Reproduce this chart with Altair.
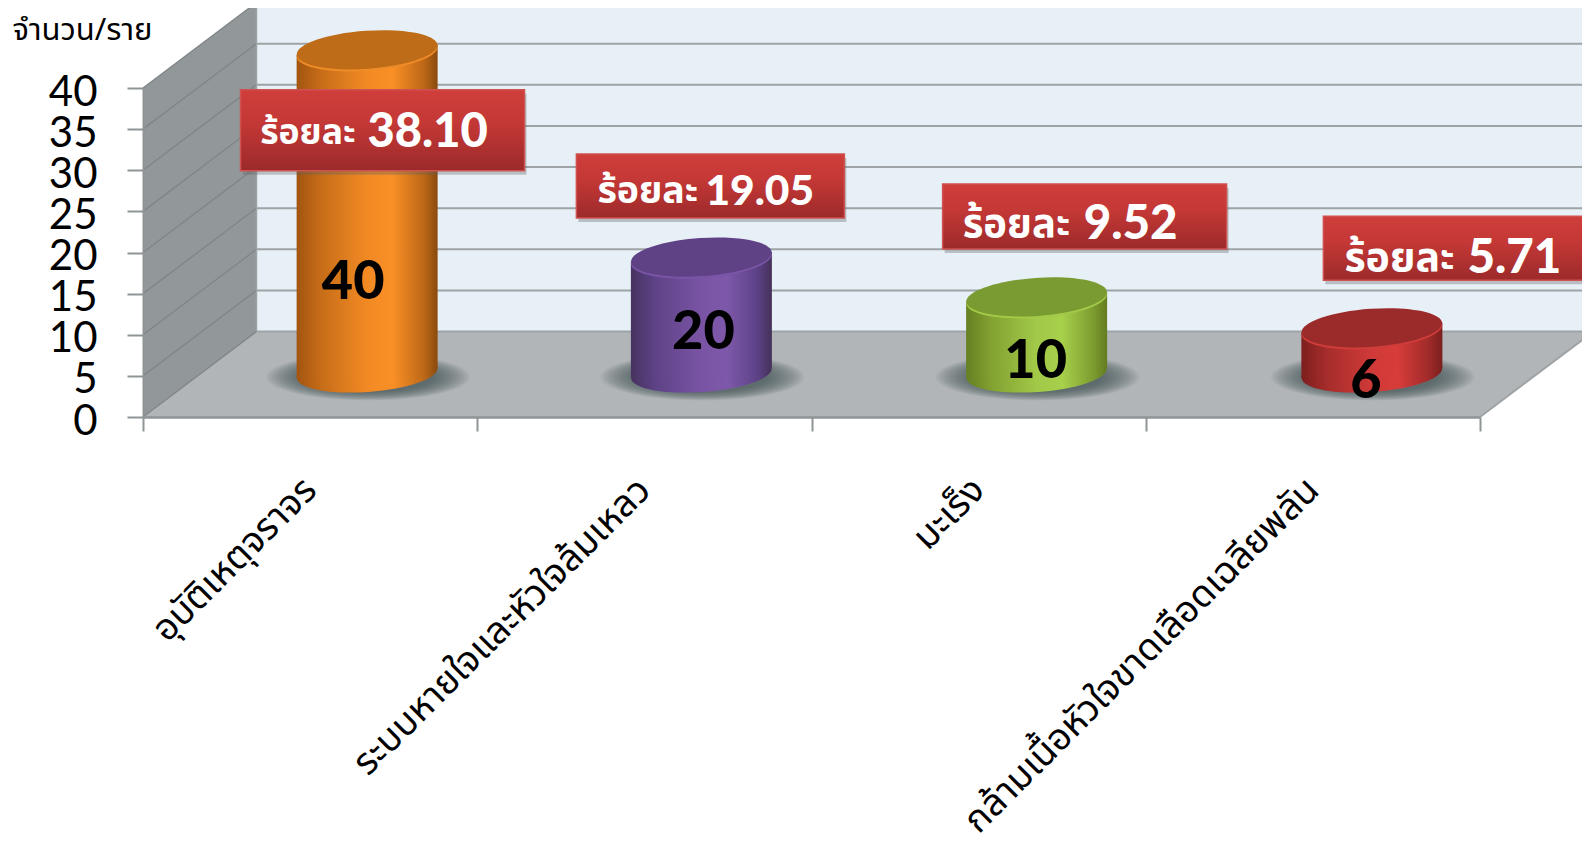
import altair as alt
import pandas as pd

categories = ["อุบัติเหตุจราจร", "ระบบหายใจและหัวใจล้มเหลว", "มะเร็ง", "กล้ามเนื้อหัวใจขาดเลือดเฉลียพลัน"]
count_labels = ["40", "20", "10", "6"]
percent_labels = ["38.10", "19.05", "9.52", "5.71"]
drawn_heights = [39.3, 14.1, 9.25, 5.5]   # cylinder heights as read against the axis
y_ticks = [0, 5, 10, 15, 20, 25, 30, 35, 40]

THAI = "Noto Sans Thai, Tahoma, Noto Sans, DejaVu Sans, sans-serif"
LATIN = "Lato, Open Sans, sans-serif"

W, H = 1337, 329
PX_X = W / 4
PX_Y = H / 40
DEPTH_X = 113.5 / PX_X
DEPTH_Y = 85.5 / PX_Y
CYL_SHIFT = [57, 57, 58, 59]
CYL_Y = 44 / PX_Y
CYL_W = 141
TILT = 0.6
HALF = CYL_W / 2 / PX_X

y_axis = alt.Axis(orient="left", values=y_ticks, title="จำนวน/ราย", titleAngle=0,
                  titleAlign="left", titleBaseline="middle", titleX=-131, titleY=-58,
                  titleFont=THAI, titleFontSize=31, titleFontWeight="normal", titleColor="#000000",
                  labelFont=LATIN, labelFontSize=42, labelColor="#000000", labelPadding=30,
                  labelOffset=4,
                  labelOverlap=False, labelBound=False, labelFlush=False, tickSize=16, tickWidth=2,
                  tickColor="#8f9496", domainColor="#8f9496", domainWidth=2,
                  zindex=1, grid=False)

X = lambda f="x": alt.X(f"{f}:Q", scale=alt.Scale(domain=[0, 4], nice=False, zero=False), axis=None)
Y = lambda f="y": alt.Y(f"{f}:Q", scale=alt.Scale(domain=[0, 40], nice=False), axis=y_axis)
Y2 = lambda f="y2": alt.Y2(f"{f}:Q")


def grad(stops, x2=1, y2=0):
    return {"gradient": "linear", "x1": 0, "y1": 0, "x2": x2, "y2": y2,
            "stops": [{"offset": o, "color": c} for o, c in stops]}


layers = []

# ---- walls and floor
left_wall = pd.DataFrame({"x": [0, DEPTH_X], "y": [40, 40 + DEPTH_Y], "y2": [0, DEPTH_Y]})
layers.append(alt.Chart(left_wall).mark_area(fill="#92989a").encode(x=X(), y=Y(), y2=Y2()))
back_wall = pd.DataFrame({"x": [DEPTH_X, 4 + DEPTH_X], "y": [40 + DEPTH_Y] * 2, "y2": [DEPTH_Y] * 2})
layers.append(alt.Chart(back_wall).mark_area(fill="#e8f0f7").encode(x=X(), y=Y(), y2=Y2()))
floor = pd.DataFrame({"x": [0, DEPTH_X, 4, 4 + DEPTH_X],
                      "y": [0, DEPTH_Y, DEPTH_Y, DEPTH_Y],
                      "y2": [0, 0, 0, DEPTH_Y]})
layers.append(alt.Chart(floor).mark_area(fill="#b1b5b8").encode(x=X(), y=Y(), y2=Y2()))

grid = pd.DataFrame({"x": [DEPTH_X] * 9, "x2": [4 + DEPTH_X] * 9,
                     "y": [v + DEPTH_Y for v in y_ticks]})
layers.append(alt.Chart(grid).mark_rule(color="#9ea3a5", strokeWidth=2).encode(
    x=X(), x2=alt.X2("x2:Q"), y=Y()))
diag = pd.DataFrame({"x": [0] * 9, "x2": [DEPTH_X] * 9, "y": y_ticks,
                     "y2": [v + DEPTH_Y for v in y_ticks]})
layers.append(alt.Chart(diag).mark_rule(color="#7f8587", strokeWidth=1.3).encode(
    x=X(), x2=alt.X2("x2:Q"), y=Y(), y2=Y2()))
edge = pd.DataFrame({"x": [4], "x2": [4 + DEPTH_X], "y": [0], "y2": [DEPTH_Y]})
layers.append(alt.Chart(edge).mark_rule(color="#9ea3a5", strokeWidth=2).encode(
    x=X(), x2=alt.X2("x2:Q"), y=Y(), y2=Y2()))
back_v = pd.DataFrame({"x": [DEPTH_X], "y": [DEPTH_Y], "y2": [40 + DEPTH_Y]})
layers.append(alt.Chart(back_v).mark_rule(color="#9ea3a5", strokeWidth=1.5).encode(
    x=X(), y=Y(), y2=Y2()))

# ---- cylinders
palette = [
    dict(side=[(0, "#a25410"), (0.18, "#c86e19"), (0.5, "#f28a24"), (0.68, "#f98f26"), (0.9, "#bd6817"), (1, "#8a4a0e")],
         top="#bf6c19", rim="#ee8c28"),
    dict(side=[(0, "#46335f"), (0.18, "#5f4388"), (0.5, "#7a54a4"), (0.68, "#7e58aa"), (0.9, "#5c4186"), (1, "#443158")],
         top="#5f4285", rim="#7a54a6"),
    dict(side=[(0, "#657f22"), (0.18, "#83a232"), (0.5, "#a2c948"), (0.68, "#a7d04b"), (0.9, "#7d9c30"), (1, "#637c20")],
         top="#7a9a32", rim="#a2c948"),
    dict(side=[(0, "#7c1f1e"), (0.18, "#a62d2b"), (0.5, "#d03a38"), (0.68, "#d73c3a"), (0.9, "#a02b2a"), (1, "#7a1f1e")],
         top="#9b2b2a", rim="#cf3d3b"),
]
RING = "M-1,0A1,0.27,0,1,1,1,0A1,0.27,0,1,1,-1,0Z"
SHADOW = "M-1,0A1,0.23,0,1,1,1,0A1,0.23,0,1,1,-1,0Z"

count_dx = [-14, 2, -1, -6]
count_dy = [233, 76, 65, 54]
box_w = [284, 268, 284, 280]
box_h = [81, 64, 65, 64]
box_dx = [15.4, 9, 48, 91.5]
box_dy = [80.5, -71, -80.5, -79.5]
thai_dx = [-107, -104, -74, -27.5]
num_dx = [0.4, 4, 47, 95.5]
text_dy = [83, -65, -72, -68.5]
thai_size = [35.5, 37.5, 40, 41]
num_size = [47, 42.5, 47.5, 47.5]

for i, pal in enumerate(palette):
    cx = i + 0.5 + CYL_SHIFT[i] / PX_X
    base = CYL_Y
    top = CYL_Y + drawn_heights[i]
    anchor = pd.DataFrame({"x": [cx], "y": [top], "count": [count_labels[i]],
                           "pct": [percent_labels[i]], "word": ["ร้อยละ"]})
    base_pt = pd.DataFrame({"x": [cx], "y": [base]})
    # soft shadow: many faint rings
    for k in range(20):
        layers.append(alt.Chart(base_pt).mark_point(
            shape=SHADOW, filled=True, fill="#4a5053", opacity=0.06, strokeWidth=0,
            size=(204 - k * 4) ** 2, yOffset=4, xOffset=1
        ).encode(x=X(), y=Y()))
    side = pd.DataFrame({"x": [cx - HALF, cx + HALF],
                         "y": [top - TILT, top + TILT],
                         "y2": [base - TILT, base + TILT]})
    layers.append(alt.Chart(base_pt).mark_point(
        shape=RING, filled=True, fill=grad(pal["side"]), opacity=1, strokeWidth=0,
        size=CYL_W ** 2, angle=356).encode(x=X(), y=Y()))
    layers.append(alt.Chart(side).mark_area(fill=grad(pal["side"])).encode(x=X(), y=Y(), y2=Y2()))
    layers.append(alt.Chart(anchor).mark_point(
        shape=RING, filled=True, fill=pal["rim"], opacity=1, strokeWidth=0,
        size=CYL_W ** 2, angle=356, yOffset=2).encode(x=X(), y=Y()))
    layers.append(alt.Chart(anchor).mark_point(
        shape=RING, filled=True, fill=pal["top"], opacity=1, strokeWidth=0,
        size=CYL_W ** 2, angle=356).encode(x=X(), y=Y()))
    layers.append(alt.Chart(anchor).mark_text(
        font=LATIN, fontWeight=900, fontSize=54, color="#000000",
        dx=count_dx[i], dy=count_dy[i], baseline="middle", align="center"
    ).encode(x=X(), y=Y(), text="count:N"))

# ---- red callouts, above all the cylinders
for i in range(4):
    cx = i + 0.5 + CYL_SHIFT[i] / PX_X
    top = CYL_Y + drawn_heights[i]
    anchor = pd.DataFrame({"x": [cx], "y": [top], "pct": [percent_labels[i]], "word": ["ร้อยละ"]})
    layers.append(alt.Chart(anchor).mark_rect(
        width=box_w[i], height=box_h[i], xOffset=box_dx[i] + 2, yOffset=box_dy[i] + 4,
        fill="#5b6164", opacity=0.35).encode(x=X(), y=Y()))
    layers.append(alt.Chart(anchor).mark_rect(
        width=box_w[i], height=box_h[i], xOffset=box_dx[i], yOffset=box_dy[i],
        fill=grad([(0, "#cf3e3b"), (0.4, "#c43836"), (1, "#9c2a2a")], x2=0, y2=1),
        stroke="#cf5250", strokeWidth=1.5).encode(x=X(), y=Y()))
    layers.append(alt.Chart(anchor).mark_text(
        font=THAI, fontWeight="bold", fontSize=thai_size[i], color="#ffffff", align="left",
        baseline="middle", dx=thai_dx[i], dy=text_dy[i]).encode(x=X(), y=Y(), text="word:N"))
    layers.append(alt.Chart(anchor).mark_text(
        font=LATIN, fontWeight=900, fontSize=num_size[i], color="#ffffff", align="left",
        baseline="middle", dx=num_dx[i], dy=text_dy[i]).encode(x=X(), y=Y(), text="pct:N"))

# ---- category axis
axis_data = pd.DataFrame({"cat": categories, "count": [int(c) for c in count_labels]})
axes = alt.Chart(axis_data).mark_bar(opacity=0).encode(
    x=alt.X("cat:N", sort=categories, title=None,
            scale=alt.Scale(paddingInner=0, paddingOuter=0),
            axis=alt.Axis(orient="bottom", tickBand="extent", labelAngle=-45, labelAlign="right",
                          labelBaseline="middle", labelFont=THAI, labelFontSize=37, labelColor="#000000",
                          labelPadding=53, labelLimit=1000, labelOverlap=False, labelBound=False,
                          labelFlush=False, tickSize=14, tickWidth=2, tickColor="#8f9496",
                          domainColor="#8f9496", domainWidth=2.5, zindex=1, grid=False)),
    y=alt.Y("count:Q", scale=alt.Scale(domain=[0, 40], nice=False), axis=y_axis),
)
layers.append(axes)

chart = alt.layer(*layers).resolve_scale(x="independent").properties(
    width=W, height=H,
    autosize=alt.AutoSizeParams(type="none"),
    padding={"left": 135, "top": 80, "right": 102, "bottom": 425},
    background="#ffffff",
).configure_view(stroke=None)

chart.save("out.html", embed_options={"renderer": "svg", "actions": False})
